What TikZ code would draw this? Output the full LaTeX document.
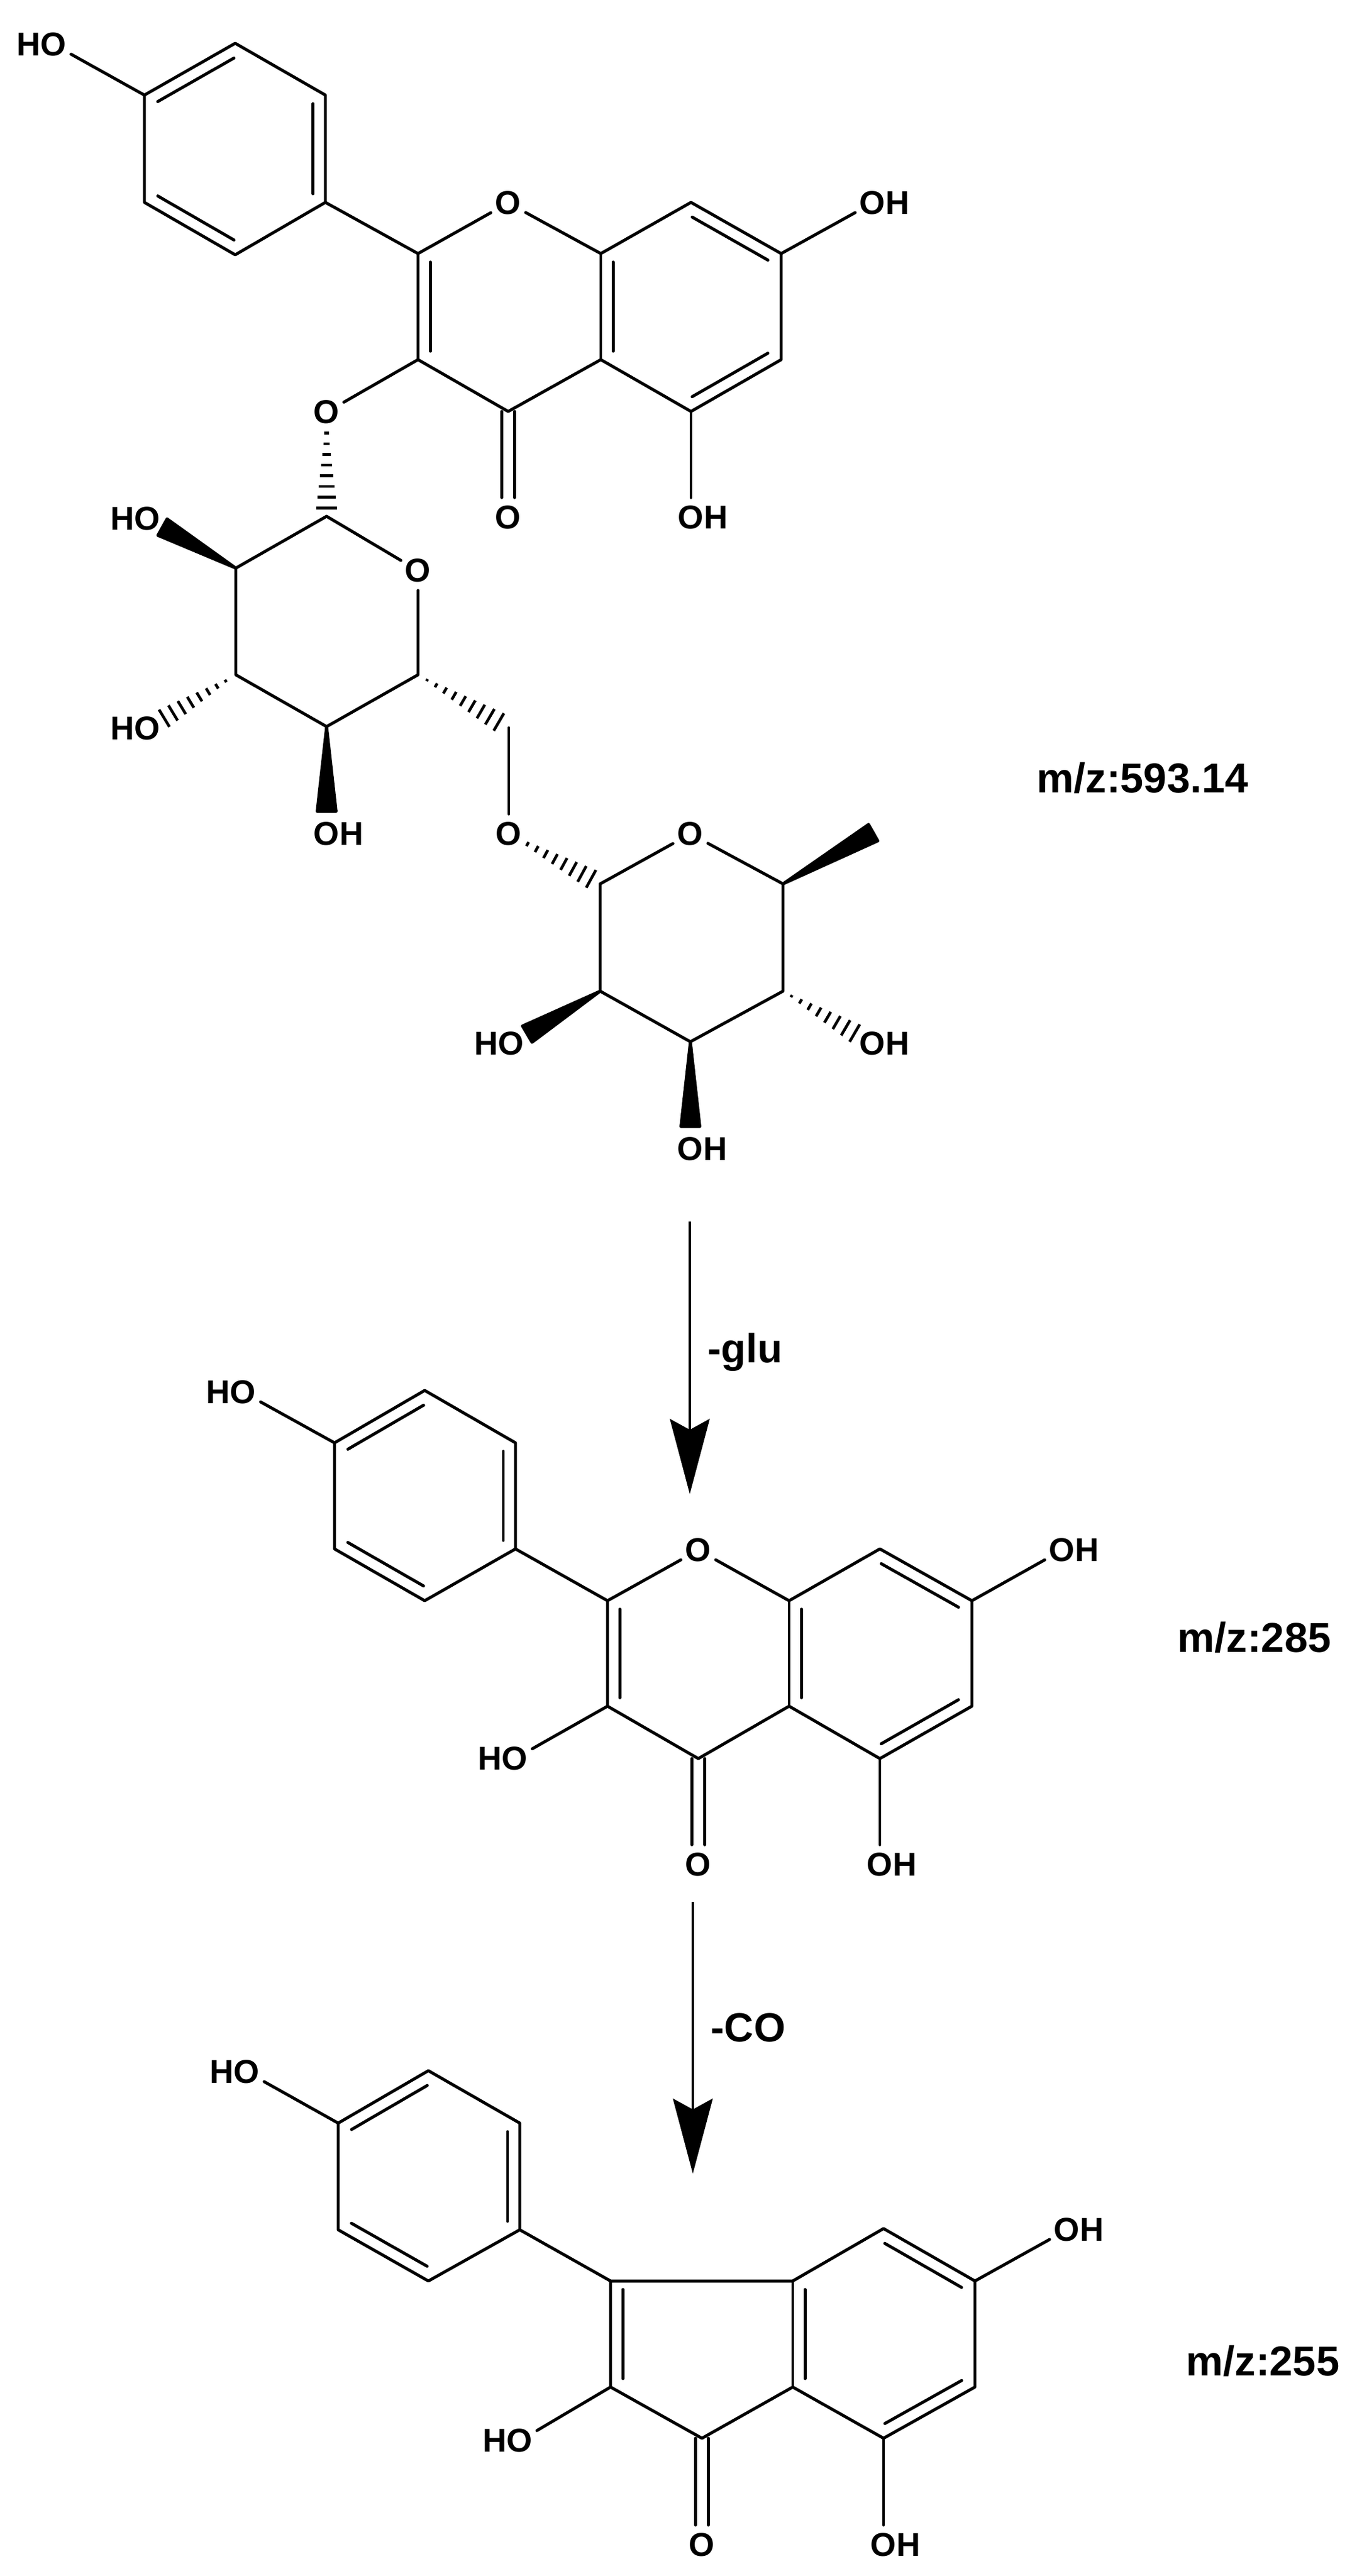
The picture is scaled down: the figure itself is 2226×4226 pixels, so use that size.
\documentclass[tikz,border=0pt]{standalone}
\usepackage{fontspec}
\setmainfont{Liberation Sans}
\usetikzlibrary{calc, arrows.meta}

\tikzset{
	bond/.style = {line width = 1.4pt, line cap = round, line join = round},
	hashline/.style = {line width = 1.3pt},
	atom/.style = {circle, inner sep = 0pt, minimum size = 0.64cm, font = \bfseries\fontsize{15.4}{18}\selectfont},
	note/.style = {anchor = base west, inner sep = 0pt, font = \bfseries\fontsize{19}{22}\selectfont},
	mass/.style = {note, font = \bfseries\fontsize{19.5}{22}\selectfont},
	react/.style = {line width = 1.4pt, -{Stealth[length = 35pt, width = 18.5pt, inset = 5pt]}}
}

% inner line of a double bond, on the left of a -> b
\newcommand{\dblbond}[2]{
	\draw[bond] ($(#1)!.08!(#2)!5.7pt!90:(#2)$) -- ($(#2)!.08!(#1)!5.7pt!-90:(#1)$);
}
% a = narrow end, third argument = how far along the bond the base sits
\newcommand{\wedgebond}[3]{
	\filldraw[bond] (#1) -- ($(#1)!#3!(#2)!4.4pt!90:(#2)$) -- ($(#1)!#3!(#2)!4.4pt!-90:(#2)$) -- cycle;
}
% last argument = number of strokes less one
\newcommand{\hashbond}[5]{
	\foreach \i in {0,...,#5} {
		\pgfmathsetmacro\hpos{#3+(#4-#3)*\i/#5}
		\pgfmathsetmacro\hwid{4.7*\hpos/#4}
		\draw[hashline] ($(#1)!\hpos!(#2)!\hwid pt!90:(#2)$) -- ($(#1)!\hpos!(#2)!\hwid pt!-90:(#2)$);
	}
}
\newcommand{\HOlab}{\llap{H}O}
\newcommand{\OHlab}{O\rlap{H}}

\begin{document}
\begin{tikzpicture}[x = 0.01cm, y = -0.01cm]
	\useasboundingbox (0,0) rectangle (2226,4226);
	
	% glycoside
	\foreach \n/\x/\y in {a-r1/386/71, a-r2/237/156, a-r3/237/332, a-r4/386/418, a-r5/534/332, a-r6/534/156,
		a-c2/686/416, a-c3/686/590, a-c4/834/675, a-c4a/986/590, a-c5/1134/675, a-c6/1282/590, a-c7/1282/416, a-c8/1134/332, a-c8a/986/416,
		s1/536/847, s2/387/932, s3/387/1107, s4/536/1192, s5/686/1107, s6/835/1194,
		t1/985/1450, t2/985/1626, t3/1133/1709, t4/1285/1626, t5/1285/1450, me/1470/1345}
		\coordinate (\n) at (\x,\y);
	\foreach \n/\x/\y/\t in {a-oh4/88/73/\HOlab, a-o1/834/333/O, a-oh7/1432/333/\OHlab, a-o3/536/676/O, a-o4/834/849/O, a-oh5/1134/849/\OHlab,
		s-o/686/936/O, s-oh2/242/851/\HOlab, s-oh3/242/1195/\HOlab, s-oh4/536/1368/\OHlab, s-o6/835/1368/O,
		t-o/1133/1368/O, t-oh2/839/1712/\HOlab, t-oh3/1133/1885/\OHlab, t-oh4/1432/1712/\OHlab}
		\node[atom] (\n) at (\x,\y) {\t};
	
	% aglycone
	\foreach \n/\x/\y in {b-r1/697/2281, b-r2/549/2367, b-r3/549/2541, b-r4/697/2626, b-r5/846/2541, b-r6/846/2367,
		b-c2/997/2626, b-c3/997/2799, b-c4/1146/2885, b-c4a/1295/2799, b-c5/1444/2885, b-c6/1595/2799, b-c7/1595/2626, b-c8/1444/2541, b-c8a/1295/2626}
		\coordinate (\n) at (\x,\y);
	\foreach \n/\x/\y/\t in {b-oh4/399/2284/\HOlab, b-o1/1146/2543/O, b-oh7/1743/2543/\OHlab, b-o3/845/2885/\HOlab, b-o4/1146/3059/O, b-oh5/1444/3059/\OHlab}
		\node[atom] (\n) at (\x,\y) {\t};
	
	% after loss of CO
	\foreach \n/\x/\y in {c-r1/703/3397, c-r2/555/3483, c-r3/555/3658, c-r4/703/3742, c-r5/853/3658, c-r6/853/3483,
		c-c3/1002/3742, c-c2/1002/3916, c-c1/1152/4000, c-c7a/1301/3916, c-c7/1450/4000, c-c6/1600/3916, c-c5/1600/3742, c-c4/1450/3656, c-c3a/1301/3742}
		\coordinate (\n) at (\x,\y);
	\foreach \n/\x/\y/\t in {c-oh4/405/3399/\HOlab, c-oh5/1751/3658/\OHlab, c-o2/853/4004/\HOlab, c-o1/1152/4175/O, c-oh7/1450/4175/\OHlab}
		\node[atom] (\n) at (\x,\y) {\t};
	
	\foreach \m in {a,b,c} {
		\draw[bond] (\m-r1) -- (\m-r2) -- (\m-r3) -- (\m-r4) -- (\m-r5) -- (\m-r6) -- cycle;
		\draw[bond] (\m-r2) -- (\m-oh4);
		\dblbond{\m-r1}{\m-r2}
		\dblbond{\m-r3}{\m-r4}
		\dblbond{\m-r5}{\m-r6}
	}
	\foreach \m in {a,b} {
		\draw[bond] (\m-r5) -- (\m-c2) -- (\m-o1) -- (\m-c8a) -- (\m-c8) -- (\m-c7) -- (\m-c6) -- (\m-c5) -- (\m-c4a) -- (\m-c4) -- (\m-c3) -- (\m-c2);
		\draw[bond] (\m-c8a) -- (\m-c4a);
		\draw[bond] (\m-c3) -- (\m-o3);
		\draw[bond] (\m-c7) -- (\m-oh7);
		\draw[bond] (\m-c5) -- (\m-oh5);
		\draw[bond, transform canvas = {xshift = -3pt}] (\m-c4) -- (\m-o4);
		\draw[bond, transform canvas = {xshift = 3pt}] (\m-c4) -- (\m-o4);
		\dblbond{\m-c2}{\m-c3}
		\dblbond{\m-c8a}{\m-c4a}
		\dblbond{\m-c7}{\m-c8}
		\dblbond{\m-c5}{\m-c6}
	}
	
	\draw[bond] (c-r5) -- (c-c3) -- (c-c3a) -- (c-c4) -- (c-c5) -- (c-c6) -- (c-c7) -- (c-c7a) -- (c-c1) -- (c-c2) -- (c-c3);
	\draw[bond] (c-c3a) -- (c-c7a);
	\draw[bond] (c-c2) -- (c-o2);
	\draw[bond] (c-c5) -- (c-oh5);
	\draw[bond] (c-c7) -- (c-oh7);
	\draw[bond, transform canvas = {xshift = -3pt}] (c-c1) -- (c-o1);
	\draw[bond, transform canvas = {xshift = 3pt}] (c-c1) -- (c-o1);
	\dblbond{c-c3}{c-c2}
	\dblbond{c-c3a}{c-c7a}
	\dblbond{c-c5}{c-c4}
	\dblbond{c-c7}{c-c6}
	
	% the two sugars
	\draw[bond] (s1) -- (s2) -- (s3) -- (s4) -- (s5) -- (s-o) -- (s1);
	\draw[bond] (s6) -- (s-o6);
	\draw[bond] (t1) -- (t2) -- (t3) -- (t4) -- (t5) -- (t-o) -- (t1);
	
	\hashbond{a-o3}{s1}{.2}{.92}{7}
	\hashbond{s3}{s-oh3}{.115}{.81}{7}
	\hashbond{s5}{s6}{.10}{.89}{8}
	\hashbond{s-o6}{t1}{.205}{.90}{7}
	\hashbond{t4}{t-oh4}{.095}{.80}{7}
	\wedgebond{s2}{s-oh2}{.83}
	\wedgebond{s4}{s-oh4}{.79}
	\wedgebond{t2}{t-oh2}{.82}
	\wedgebond{t3}{t-oh3}{.79}
	\wedgebond{t5}{me}{.8}
	
	\coordinate (arrowa) at (1132,2004);
	\coordinate (arrowb) at (1132,2451);
	\coordinate (arrowc) at (1137,3120);
	\coordinate (arrowd) at (1137,3566);
	\draw[react] (arrowa) -- (arrowb);
	\draw[react] (arrowc) -- (arrowd);
	
	\node[note] (glu) at (1161,2235) {-glu};
	\node[note] (co) at (1166,3349) {-CO};
	\node[mass] (mza) at (1701,1300) {m/z:593.14};
	\node[mass] (mzb) at (1932,2710) {m/z:285};
	\node[mass] (mzc) at (1946,3897) {m/z:255};
\end{tikzpicture}
\end{document}
